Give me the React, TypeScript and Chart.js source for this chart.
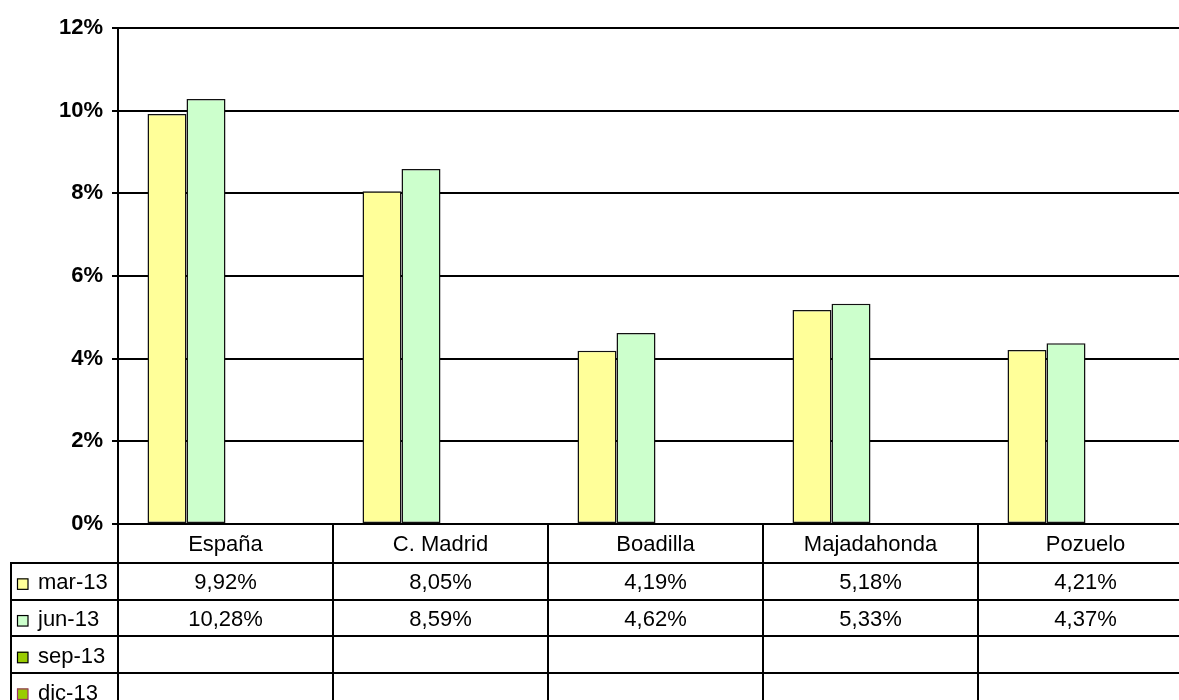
import React, { useEffect, useRef } from "react";
import { Chart, registerables } from "chart.js";

Chart.register(...registerables);

const categories = ["España", "C. Madrid", "Boadilla", "Majadahonda", "Pozuelo"];
const seriesLabels = ["mar-13", "jun-13", "sep-13", "dic-13"];
const mar13: (number | null)[] = [9.92, 8.05, 4.19, 5.18, 4.21];
const jun13: (number | null)[] = [10.28, 8.59, 4.62, 5.33, 4.37];
const sep13: (number | null)[] = [null, null, null, null, null];
const dic13: (number | null)[] = [null, null, null, null, null];
const seriesValues = [mar13, jun13, sep13, dic13];
const seriesFill = ["#FFFF99", "#CCFFCC", "#99CC00", "#99CC00"];
const seriesKeyBorder = ["#000000", "#000000", "#000000", "#993366"];
const yMin = 0;
const yMax = 12;
const yStep = 2;

const FONT = "'Liberation Sans', Arial, sans-serif";

const fmt = (v: number | null) =>
  v === null ? "" : v.toFixed(2).replace(".", ",") + "%";

const tablePlugin = {
  id: "dataTable",
  afterDraw(chart: any) {
    const ctx = chart.ctx as CanvasRenderingContext2D;
    const { left, right, bottom } = chart.chartArea;
    const n = categories.length;
    const colW = (right - left) / n;
    const headerBottom = bottom + 39;
    const rowH = 36.7;
    const tableLeft = 11;
    const canvasBottom = chart.height + 5;

    ctx.save();
    ctx.strokeStyle = "#000";
    ctx.lineWidth = 2;

    const hline = (x1: number, x2: number, y: number) => {
      const yy = Math.round(y);
      ctx.beginPath();
      ctx.moveTo(x1, yy);
      ctx.lineTo(x2, yy);
      ctx.stroke();
    };
    const vline = (x: number, y1: number, y2: number) => {
      const xx = Math.round(x);
      ctx.beginPath();
      ctx.moveTo(xx, y1);
      ctx.lineTo(xx, y2);
      ctx.stroke();
    };

    // top of table / category axis
    hline(left - 6, right + 10, bottom);
    // row separators
    for (let r = 0; r <= seriesLabels.length; r++) {
      const y = headerBottom + r * rowH;
      if (y < canvasBottom) hline(tableLeft - 1, right + 10, y);
    }
    // vertical lines
    for (let c = 0; c <= n; c++) {
      vline(left + c * colW, bottom - 1, canvasBottom);
    }
    vline(tableLeft, headerBottom - 1, canvasBottom);

    ctx.fillStyle = "#000";
    ctx.font = `22px ${FONT}`;
    ctx.textAlign = "center";
    ctx.textBaseline = "middle";
    // category headers
    categories.forEach((cat, i) => {
      ctx.fillText(cat, left + (i + 0.5) * colW, (bottom + headerBottom) / 2 + 1);
    });
    // data rows
    seriesLabels.forEach((lab, r) => {
      const cy = headerBottom + (r + 0.5) * rowH + 2;
      // legend key
      ctx.fillStyle = seriesFill[r];
      ctx.fillRect(17, cy - 5, 11, 11);
      ctx.strokeStyle = seriesKeyBorder[r];
      ctx.lineWidth = 1.2;
      ctx.strokeRect(17.5, cy - 4.5, 10.5, 10.5);
      ctx.fillStyle = "#000";
      ctx.textAlign = "left";
      ctx.fillText(lab, 38, cy);
      ctx.textAlign = "center";
      seriesValues[r].forEach((v, i) => {
        const t = fmt(v);
        if (t) ctx.fillText(t, left + (i + 0.5) * colW, cy);
      });
    });
    ctx.restore();
  },
};

export default function App() {
  const ref = useRef<HTMLCanvasElement | null>(null);

  useEffect(() => {
    if (!ref.current) return;
    const chart = new Chart(ref.current, {
      type: "bar",
      data: {
        labels: categories,
        datasets: seriesLabels.map((lab, i) => ({
          label: lab,
          data: seriesValues[i],
          backgroundColor: seriesFill[i],
          borderColor: "#111",
          borderWidth: 1.5,
          borderSkipped: false,
          categoryPercentage: 156 / 215,
          barPercentage: 1,
        })),
      },
      options: {
        responsive: false,
        animation: false,
        layout: { padding: { top: 28, right: 7, bottom: 176, left: 0 } },
        plugins: {
          legend: { display: false },
          tooltip: { enabled: false },
        },
        scales: {
          x: {
            display: false,
          },
          y: {
            min: yMin,
            max: yMax,
            afterFit: (s: any) => {
              s.width = 118;
            },
            ticks: {
              stepSize: yStep,
              padding: 9,
              color: "#000",
              font: { family: FONT, size: 22, weight: "bold" },
              callback: (v: any) => `${v}%`,
            },
            grid: {
              color: "#000",
              lineWidth: 2,
              tickLength: 6,
              drawTicks: true,
            },
            border: { color: "#000", width: 2 },
          },
        },
      },
      plugins: [tablePlugin],
    });
    return () => chart.destroy();
  }, []);

  return (
    <div
      style={{
        position: "fixed",
        left: 0,
        top: 0,
        width: 1179,
        height: 700,
        overflow: "hidden",
        background: "#fff",
      }}
    >
      <canvas ref={ref} width={1200} height={700} style={{ display: "block" }} />
    </div>
  );
}
